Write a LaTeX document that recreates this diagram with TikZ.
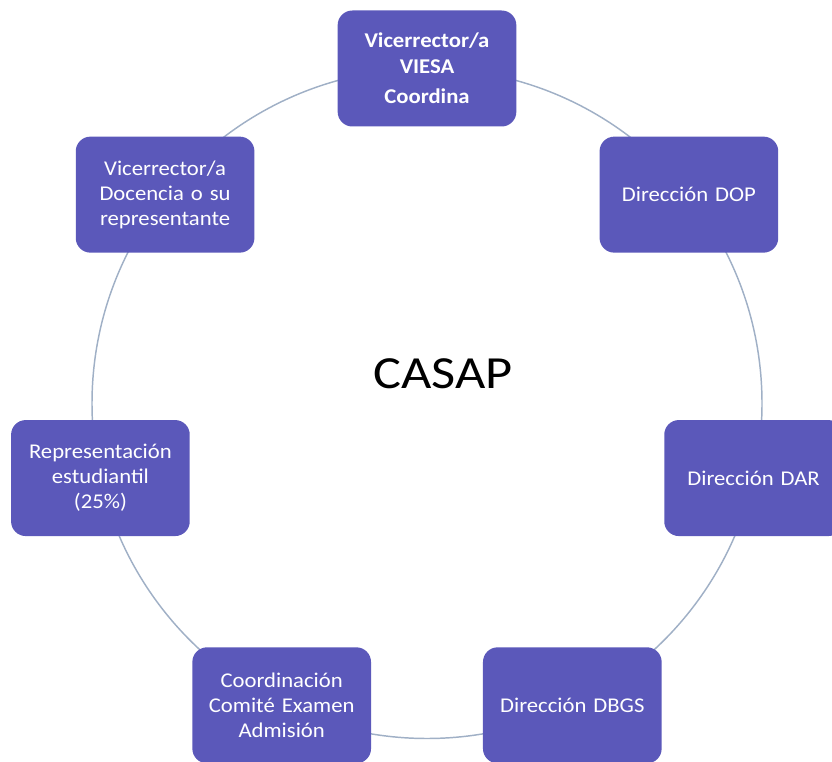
\documentclass[tikz,border=0pt]{standalone}
\usepackage{fontspec}
\setmainfont{Carlito}
\newfontfamily\boxfont{Carlito}[FakeStretch=1.08]
\usetikzlibrary{calc}
\definecolor{boxfill}{RGB}{91,88,186}
\definecolor{ringcol}{RGB}{160,176,198}
\begin{document}
\begin{tikzpicture}[x=0.75pt,y=0.75pt,
  member/.style={draw=none,fill=boxfill,rounded corners=11pt,
    minimum width=134pt,minimum height=87pt,text width=125pt,
    align=center,text=white,
    font=\boxfont\fontsize{15.75pt}{18.75pt}\selectfont,inner sep=0pt},
  ring/.style={draw=ringcol,line width=1.1pt}]
\useasboundingbox (0,0) rectangle (832,761);
\clip (0,0) rectangle (832,761);
\coordinate (c) at (427,357.5);
\draw[ring] (c) circle [radius=251.25pt];
\node[member] (viesa) at ($(c)+(90:335)$) {\bfseries Vicerrector/a\\[0.5pt] VIESA\\[4pt] Coordina};
\node[member] (dop) at ($(c)+(38.57:335)$) {Dirección DOP};
\node[member] (dar) at ($(c)+(-12.86:335)$) {Dirección DAR};
\node[member] (dbgs) at ($(c)+(-64.29:335)$) {Dirección DBGS};
\node[member] (coord) at ($(c)+(-115.71:335)$) {Coordinación\\Comité Examen\\Admisión};
\node[member] (repr) at ($(c)+(-167.14:335)$) {Representación\\estudiantil\\(25\%)};
\node[member] (doc) at ($(c)+(141.43:335)$) {Vicerrector/a\\Docencia o su\\representante};
\node[anchor=base,inner sep=0pt,font=\fontsize{34.5pt}{40pt}\selectfont] (casap) at (443,372) {\scalebox{1.14}[1]{CASAP}};
\end{tikzpicture}
\end{document}
